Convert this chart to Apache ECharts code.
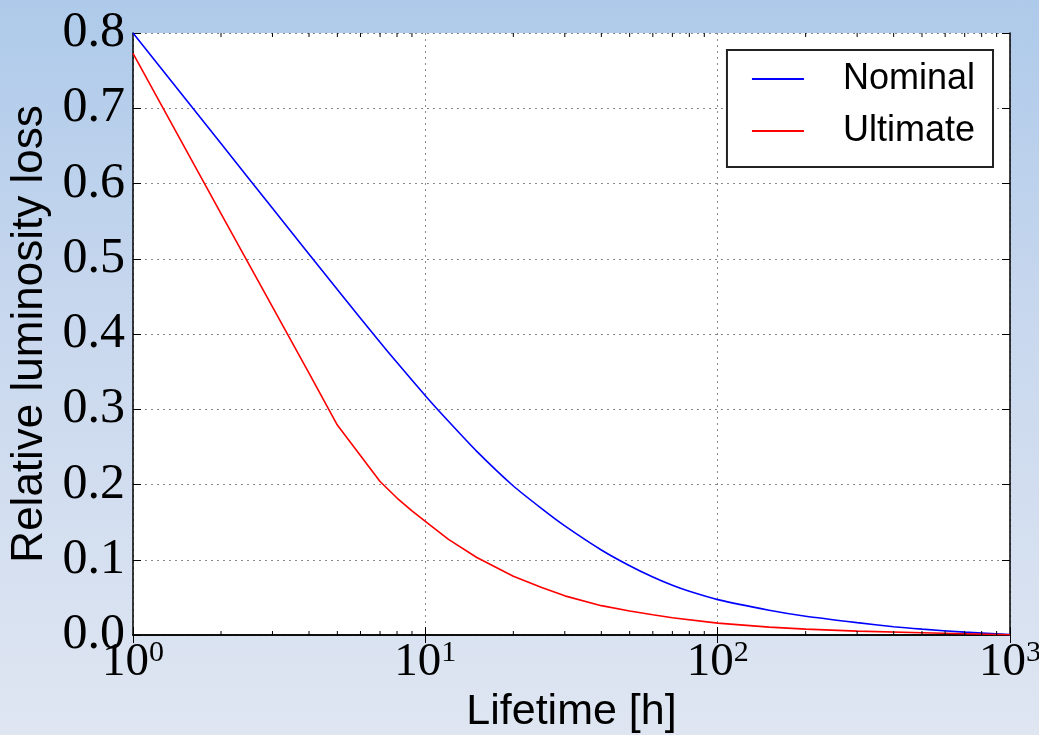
<!DOCTYPE html>
<html>
<head>
<meta charset="utf-8">
<script src="https://cdn.jsdelivr.net/npm/echarts@6/dist/echarts.min.js"></script>
<style>
html, body { margin: 0; padding: 0; width: 1039px; height: 735px; overflow: hidden; }
body { background: linear-gradient(to bottom, #aecaea 0%, #c9d8ee 45%, #dfe6f2 100%); }
#chart { width: 1039px; height: 735px; }
</style>
</head>
<body>
<div id="chart"></div>
<script>
// Lifetime [h] sample points
const lifetimeNominal = [1, 2, 3, 5, 7, 8, 10, 12, 15, 20, 25, 30, 40, 50, 60, 70, 80, 100, 150, 200, 300, 400, 500, 700, 1000];
const nominalLoss     = [0.800, 0.653, 0.567, 0.459, 0.389, 0.362, 0.318, 0.284, 0.244, 0.198, 0.168, 0.145, 0.113, 0.092, 0.077, 0.066, 0.058, 0.047, 0.033, 0.025, 0.0165, 0.011, 0.0078, 0.0038, 0.0005];
const lifetimeUltimate = [1, 2, 3, 4, 5, 7, 8, 9, 10, 12, 15, 20, 25, 30, 40, 50, 60, 70, 100, 150, 200, 300, 500, 700, 1000];
const ultimateLoss     = [0.773, 0.560, 0.436, 0.348, 0.279, 0.204, 0.182, 0.165, 0.151, 0.127, 0.103, 0.078, 0.063, 0.052, 0.039, 0.032, 0.027, 0.023, 0.0158, 0.0105, 0.0078, 0.0052, 0.0030, 0.0017, 0.0003];
const yTicks = [0.0, 0.1, 0.2, 0.3, 0.4, 0.5, 0.6, 0.7, 0.8];
const minorTickValues = [2,3,4,5,6,7,8,9,20,30,40,50,60,70,80,90,200,300,400,500,600,700,800,900];
const seriesNames = ['Nominal', 'Ultimate'];

const chart = echarts.init(document.getElementById('chart'), null, { renderer: 'canvas' });

const serif = "'Liberation Serif', 'DejaVu Serif', serif";
const sans = "'Liberation Sans', Arial, sans-serif";

const axisLineStyle = { show: true, lineStyle: { color: '#000', width: 1.5 } };
const gridLine = { show: true, lineStyle: { color: '#8a8a8a', width: 1, type: [2, 4] } };

const option = {
  backgroundColor: 'transparent',
  animation: false,
  grid: { left: 133, right: 29, top: 33, bottom: 100, show: true, backgroundColor: '#fff', borderWidth: 0, containLabel: false, outerBoundsMode: 'none' },
  legend: {
    data: seriesNames,
    orient: 'vertical',
    right: 46,
    top: 50,
    backgroundColor: '#fff',
    borderColor: '#222',
    borderWidth: 2,
    borderRadius: 0,
    padding: [11, 18, 18, 25],
    itemGap: 16,
    itemWidth: 52,
    itemHeight: 2,
    icon: 'rect',
    textStyle: { fontFamily: sans, fontSize: 36, color: '#000', padding: [0, 0, 0, 34] }
  },
  xAxis: [
    {
      type: 'log', logBase: 10, min: 1, max: 1000, position: 'bottom',
      axisLine: axisLineStyle,
      axisTick: { show: true, inside: true, length: 8, lineStyle: { color: '#000', width: 1 } },
      splitLine: gridLine,
      name: 'Lifetime [h]', nameLocation: 'middle', nameGap: 51,
      nameTextStyle: { fontFamily: sans, fontSize: 43, color: '#000', verticalAlign: 'top' },
      axisLabel: {
        margin: 3,
        formatter: function (v) {
          const e = Math.round(Math.log10(v));
          return '{b|10}{s|' + e + '}';
        },
        rich: {
          b: { fontFamily: serif, fontSize: 47, color: '#000', verticalAlign: 'bottom', lineHeight: 48 },
          s: { fontFamily: serif, fontSize: 30, color: '#000', verticalAlign: 'top', lineHeight: 32 }
        },
        showMinLabel: true, showMaxLabel: true
      }
    },
    {
      type: 'log', logBase: 10, min: 1, max: 1000, position: 'top',
      axisLine: axisLineStyle,
      axisTick: { show: true, inside: true, length: 8, lineStyle: { color: '#000', width: 1 } },
      axisLabel: { show: false }, splitLine: { show: false }
    }
  ],
  yAxis: [
    {
      type: 'value', min: 0, max: 0.8, interval: 0.1, position: 'left',
      axisLine: axisLineStyle,
      axisTick: { show: true, inside: true, length: 8, lineStyle: { color: '#000', width: 1 } },
      splitLine: gridLine,
      name: 'Relative luminosity loss', nameLocation: 'middle', nameGap: 68,
      nameTextStyle: { fontFamily: sans, fontSize: 44, color: '#000' },
      axisLabel: {
        margin: 8,
        fontFamily: serif, fontSize: 50, color: '#000',
        padding: [0, 0, 11, 0],
        formatter: function (v) { return v.toFixed(1); }
      }
    },
    {
      type: 'value', min: 0, max: 0.8, interval: 0.1, position: 'right',
      axisLine: axisLineStyle,
      axisTick: { show: true, inside: true, length: 8, lineStyle: { color: '#000', width: 1 } },
      axisLabel: { show: false }, splitLine: { show: false }
    }
  ],
  series: [
    {
      name: 'Nominal', type: 'line', xAxisIndex: 0, yAxisIndex: 0,
      data: lifetimeNominal.map((x, i) => [x, nominalLoss[i]]),
      showSymbol: false, symbol: 'none', smooth: 0.2,
      lineStyle: { color: '#0000ff', width: 1.6 }, itemStyle: { color: '#0000ff' }, z: 3
    },
    {
      name: 'Ultimate', type: 'line', xAxisIndex: 0, yAxisIndex: 0,
      data: lifetimeUltimate.map((x, i) => [x, ultimateLoss[i]]),
      showSymbol: false, symbol: 'none', smooth: false,
      lineStyle: { color: '#ff0000', width: 1.6 }, itemStyle: { color: '#ff0000' }, z: 4
    },
    {
      name: 'minorTicks', type: 'custom', xAxisIndex: 0, yAxisIndex: 0,
      data: minorTickValues.map(v => [v, 0]),
      silent: true, z: 5,
      renderItem: function (params, api) {
        const v = api.value(0);
        const b = api.coord([v, 0]);
        const t = api.coord([v, 0.8]);
        return {
          type: 'group',
          children: [
            { type: 'line', shape: { x1: b[0], y1: b[1], x2: b[0], y2: b[1] - 4 }, style: { stroke: '#000', lineWidth: 1 } },
            { type: 'line', shape: { x1: t[0], y1: t[1], x2: t[0], y2: t[1] + 4 }, style: { stroke: '#000', lineWidth: 1 } }
          ]
        };
      }
    }
  ]
};
chart.setOption(option);
</script>
</body>
</html>
